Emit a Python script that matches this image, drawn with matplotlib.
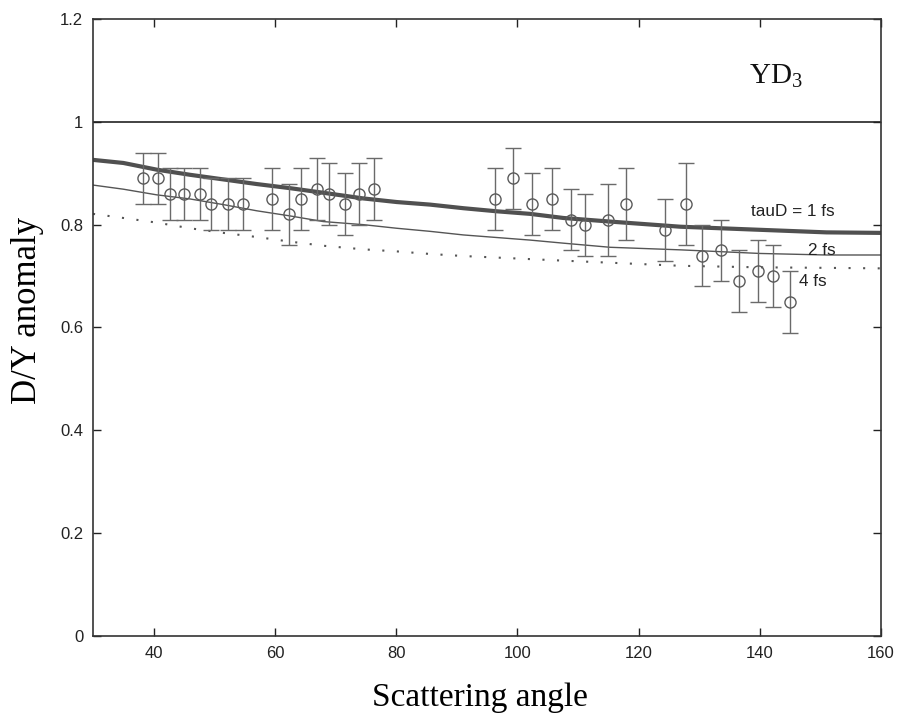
import matplotlib
matplotlib.use("Agg")
import matplotlib.pyplot as plt

plt.rcParams["mathtext.fontset"] = "custom"
plt.rcParams["mathtext.rm"] = "Liberation Serif"

# Measured D/Y anomaly versus scattering angle
angle = [38.3, 40.7, 42.7, 45.0, 47.7, 49.4, 52.3, 54.7, 59.6, 62.3, 64.3,
         66.9, 68.9, 71.6, 73.9, 76.3, 96.3, 99.3, 102.4, 105.7, 108.8,
         111.2, 114.9, 118.0, 124.3, 127.9, 130.4, 133.6, 136.6, 139.7,
         142.1, 145.0]
ratio = [0.89, 0.89, 0.86, 0.86, 0.86, 0.84, 0.84, 0.84, 0.85, 0.82, 0.85,
         0.87, 0.86, 0.84, 0.86, 0.87, 0.85, 0.89, 0.84, 0.85, 0.81,
         0.80, 0.81, 0.84, 0.79, 0.84, 0.74, 0.75, 0.69, 0.71,
         0.70, 0.65]
ratio_err = [0.05, 0.05, 0.05, 0.05, 0.05, 0.05, 0.05, 0.05, 0.06, 0.06, 0.06,
             0.06, 0.06, 0.06, 0.06, 0.06, 0.06, 0.06, 0.06, 0.06, 0.06,
             0.06, 0.07, 0.07, 0.06, 0.08, 0.06, 0.06, 0.06, 0.06,
             0.06, 0.06]

# Model curves for different deuteron lifetimes
curve_angle = [30, 35, 40.5, 46, 51.5, 57, 62.5, 68, 74.6, 80.1, 85.6, 91.1,
               96.6, 102.1, 107.6, 115.3, 126.9, 140, 151, 160]
tau1 = [0.926, 0.920, 0.907, 0.897, 0.888, 0.879, 0.871, 0.862, 0.851,
        0.844, 0.839, 0.832, 0.826, 0.821, 0.813, 0.806, 0.796, 0.790,
        0.785, 0.784]
tau2 = [0.877, 0.869, 0.858, 0.850, 0.839, 0.827, 0.817, 0.806, 0.800,
        0.793, 0.787, 0.780, 0.775, 0.770, 0.764, 0.756, 0.751, 0.744,
        0.741, 0.741]
tau4 = [0.821, 0.813, 0.804, 0.793, 0.784, 0.776, 0.767, 0.759, 0.752,
        0.748, 0.743, 0.739, 0.736, 0.733, 0.730, 0.726, 0.720, 0.717,
        0.716, 0.715]

x_ticks = [40, 60, 80, 100, 120, 140, 160]
y_ticks = [0, 0.2, 0.4, 0.6, 0.8, 1.0, 1.2]
y_tick_labels = ["0", "0.2", "0.4", "0.6", "0.8", "1", "1.2"]

fig = plt.figure(figsize=(8.98, 7.17), dpi=100)
ax = fig.add_axes([0.1036, 0.113, 0.8775, 0.8605])

ax.axhline(1.0, color="#222222", lw=1.2)
ax.plot(curve_angle, tau1, color="#505050", lw=3.0, solid_capstyle="butt")
ax.plot(curve_angle, tau2, color="#555555", lw=1.0)
ax.plot(curve_angle, tau4, color="#555555", lw=1.5, linestyle=(0, (1, 6)))

ax.errorbar(angle, ratio, yerr=ratio_err, fmt="o", mfc="none", mec="#5a5a5a",
            ms=8, mew=1.0, ecolor="#6a6a6a", elinewidth=1.0, capsize=5.5,
            capthick=1.0)

ax.text(145.5, 0.826, "tauD = 1 fs", fontsize=12.3, family="Liberation Sans",
        ha="center", va="center", color="#222222")
ax.text(150.3, 0.750, "2 fs", fontsize=12.3, family="Liberation Sans",
        ha="center", va="center", color="#222222")
ax.text(148.8, 0.689, "4 fs", fontsize=12.3, family="Liberation Sans",
        ha="center", va="center", color="#222222")
ax.text(138.3, 1.076, r"$\mathrm{YD}_3$", fontsize=21,
        ha="left", va="baseline", color="#111111")

ax.set_xlim(30, 160)
ax.set_ylim(0, 1.2)
ax.set_xticks(x_ticks)
ax.set_yticks(y_ticks)
ax.set_yticklabels(y_tick_labels)
ax.tick_params(direction="in", length=6, width=1.0, top=True, right=True,
               labelsize=12, colors="#222222", pad=7)
for lab in ax.get_xticklabels() + ax.get_yticklabels():
    lab.set_family("Liberation Sans")
for sp in ax.spines.values():
    sp.set_color("#333333")
    sp.set_linewidth(1.2)

ax.set_xlabel("Scattering angle", fontsize=24, family="Liberation Serif")
ax.set_ylabel("D/Y anomaly", fontsize=25, family="Liberation Serif")
ax.xaxis.set_label_coords(0.491, -0.076)
ax.yaxis.set_label_coords(-0.062, 0.527)

fig.savefig("out.png", dpi=100)
